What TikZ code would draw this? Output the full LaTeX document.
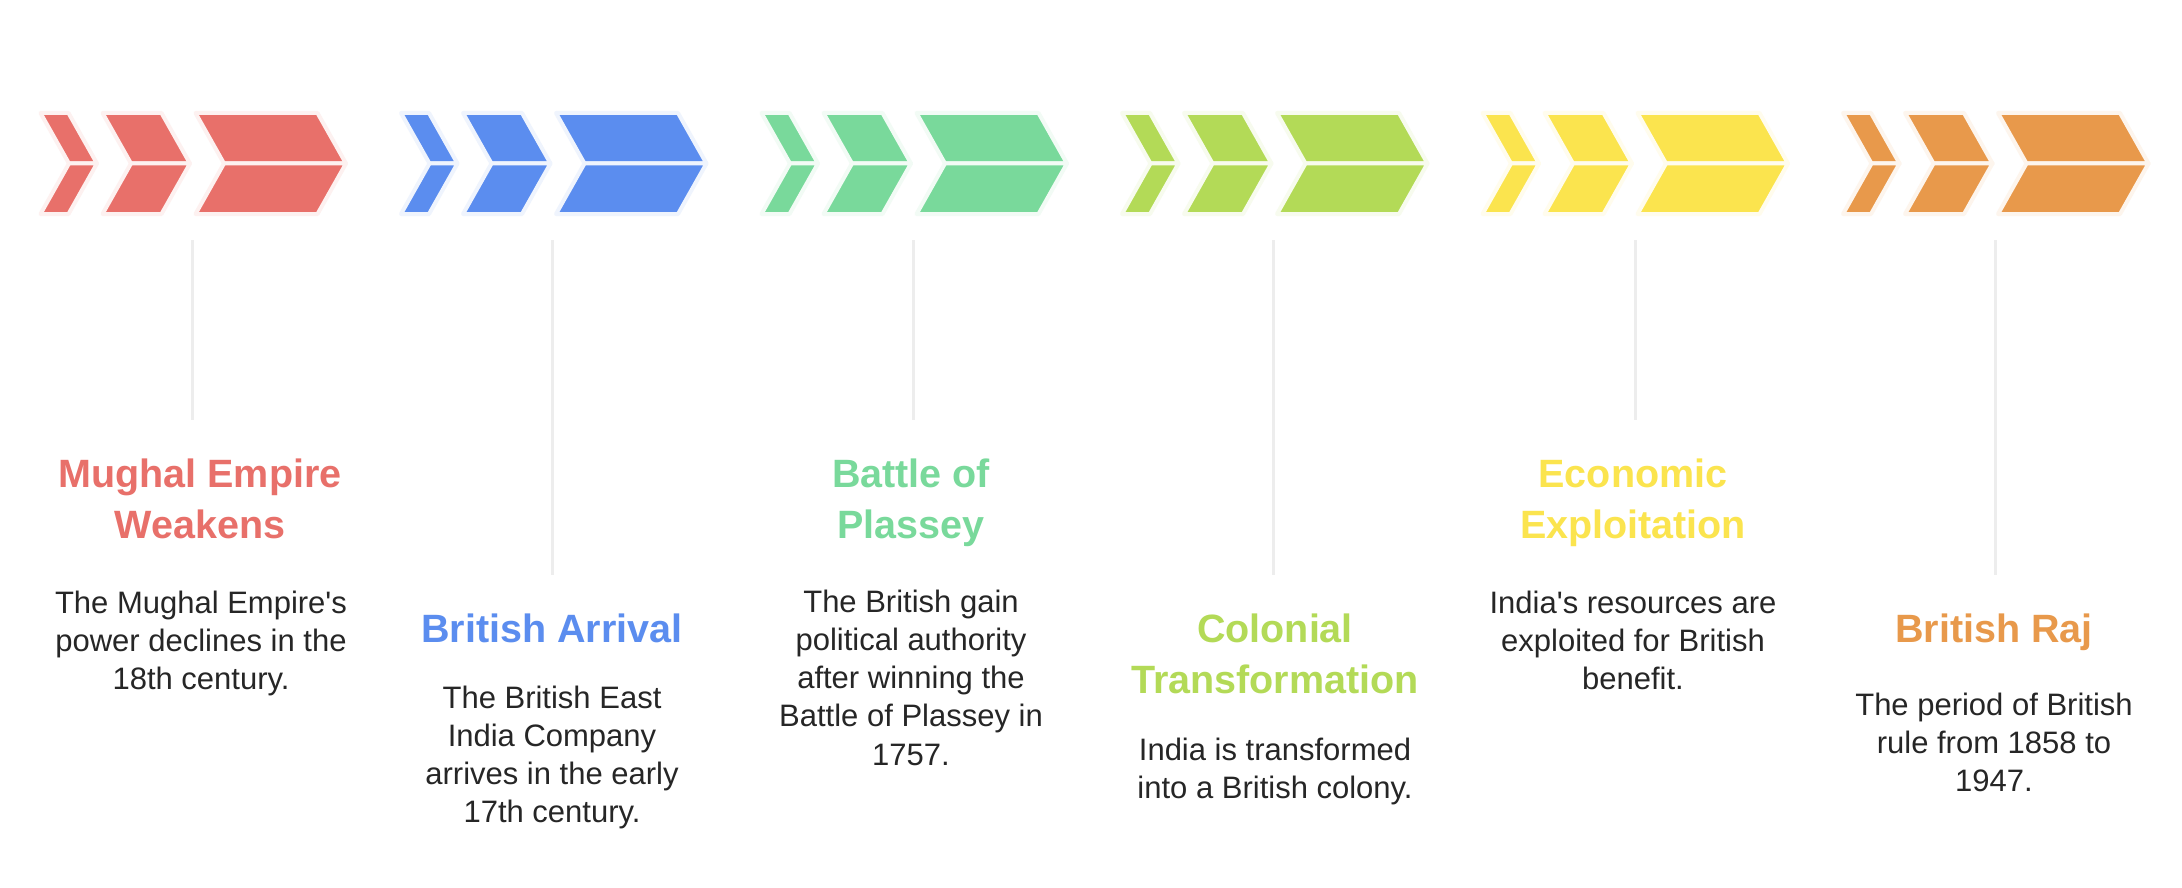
\documentclass[tikz,border=0pt]{standalone}
\usepackage{fontspec}
\setmainfont{Liberation Sans}[Ligatures=TeXOff]
\definecolor{cRed}{HTML}{E8706A}
\definecolor{cBlue}{HTML}{5B8DEF}
\definecolor{cGreen}{HTML}{79D99B}
\definecolor{cLime}{HTML}{B3DA57}
\definecolor{cYellow}{HTML}{FBE44E}
\definecolor{cOrange}{HTML}{E8994B}
\definecolor{bodytext}{HTML}{262626}
\definecolor{connline}{HTML}{EDEDED}
\newcommand\mylines[1]{\begin{tabular}[t]{@{}c@{}}#1\end{tabular}}
\newcommand\chevgroup[2]{%
  \foreach \a/\b in {0/25,62/118,155/274}{%
    \filldraw[piece=#2] ({#1+\a-1.5},113) -- ({#1+\b+1.5},113) -- ({#1+\b+30},163.5) -- ({#1+\a+27},163.5) -- cycle;
    \filldraw[piece=#2] ({#1+\a+27},163.5) -- ({#1+\b+30},163.5) -- ({#1+\b+1.5},214) -- ({#1+\a-1.5},214) -- cycle;
  }}
\begin{document}
\begin{tikzpicture}[x=1pt,y=-1pt,
  piece/.style={fill=#1, draw=#1!10!white, line width=4, line join=round},
  conn/.style={draw=connline, line width=3},
  ttl/.style={anchor=base, inner sep=0, font=\fontsize{39.5}{51}\selectfont\bfseries, text=#1},
  bodytxt/.style={anchor=base, inner sep=0, font=\fontsize{31}{38.3}\selectfont, text=bodytext}]
\useasboundingbox (0,0) rectangle (2182,888);
\fill[white] (0,0) rectangle (2182,888);

% chevron groups
\chevgroup{42}{cRed}
\chevgroup{402.5}{cBlue}
\chevgroup{763}{cGreen}
\chevgroup{1123.5}{cLime}
\chevgroup{1484}{cYellow}
\chevgroup{1844.5}{cOrange}

% connector ends
\coordinate (a1) at (192,240);   \coordinate (b1) at (192,420);
\coordinate (a2) at (552,240);   \coordinate (b2) at (552,575);
\coordinate (a3) at (913,240);   \coordinate (b3) at (913,420);
\coordinate (a4) at (1273,240);  \coordinate (b4) at (1273,575);
\coordinate (a5) at (1635,240);  \coordinate (b5) at (1635,420);
\coordinate (a6) at (1995,240);  \coordinate (b6) at (1995,575);
\foreach \i in {1,...,6} { \draw[conn] (a\i) -- (b\i); }

% titles
\node[ttl=cRed] (t1) at (200,487) {\mylines{Mughal Empire\\Weakens}};
\node[ttl=cBlue] (t2) at (552,642) {\mylines{British Arrival}};
\node[ttl=cGreen] (t3) at (911,487) {\mylines{Battle of\\Plassey}};
\node[ttl=cLime] (t4) at (1275,642) {\mylines{Colonial\\Transformation}};
\node[ttl=cYellow] (t5) at (1633,487) {\mylines{Economic\\Exploitation}};
\node[ttl=cOrange] (t6) at (1994,642) {\mylines{British Raj}};

% descriptions
\node[bodytxt] (d1) at (201,613) {\mylines{The Mughal Empire's\\power declines in the\\18th century.}};
\node[bodytxt] (d2) at (552,708) {\mylines{The British East\\India Company\\arrives in the early\\17th century.}};
\node[bodytxt] (d3) at (911,612) {\mylines{The British gain\\political authority\\after winning the\\Battle of Plassey in\\1757.}};
\node[bodytxt] (d4) at (1275,760) {\mylines{India is transformed\\into a British colony.}};
\node[bodytxt] (d5) at (1633,613) {\mylines{India's resources are\\exploited for British\\benefit.}};
\node[bodytxt] (d6) at (1994,715) {\mylines{The period of British\\rule from 1858 to\\1947.}};
\end{tikzpicture}
\end{document}
